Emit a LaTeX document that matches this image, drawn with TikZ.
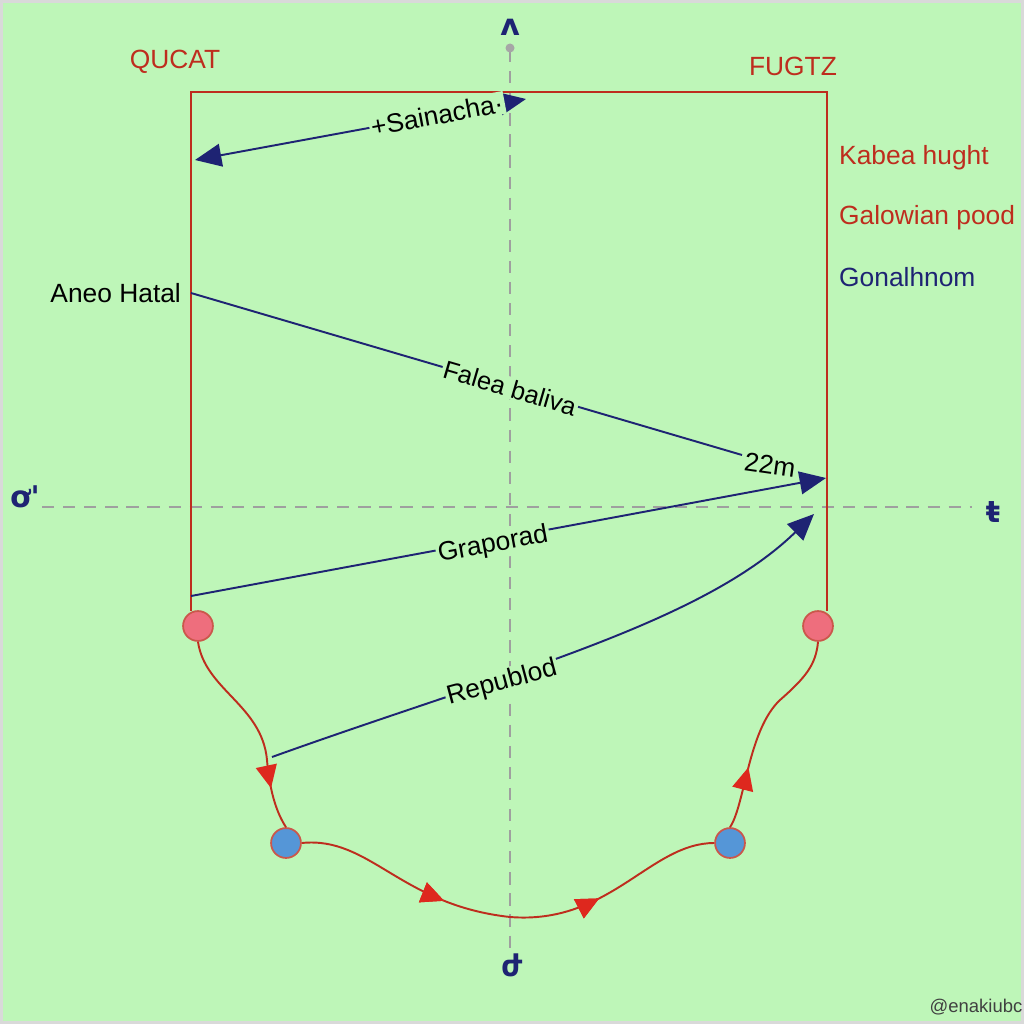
\documentclass[tikz,border=0pt]{standalone}
\usepackage{fontspec}
\setmainfont{Liberation Sans}
\newfontfamily\dejavu{DejaVu Sans}
\usetikzlibrary{arrows.meta,decorations.markings}
\definecolor{bg}{RGB}{190,246,184}
\definecolor{rred}{RGB}{190,45,30}
\definecolor{tipred}{RGB}{222,40,30}
\definecolor{navy}{RGB}{30,35,115}
\definecolor{pinkc}{RGB}{238,110,125}
\definecolor{bluec}{RGB}{85,150,215}
\tikzset{
  redframe/.style={draw=rred,line width=1.4pt},
  navyline/.style={draw=navy,line width=1.1pt},
  navytip/.style={-{Triangle[length=15pt,width=13pt]},navy},
  axis/.style={draw=gray!75,dashed,line width=0.9pt,dash pattern=on 7pt off 5pt},
  pinkdot/.style={circle,draw=rred!80,line width=1pt,fill=pinkc,minimum size=17pt,inner sep=0pt},
  bluedot/.style={circle,draw=rred!80,line width=1pt,fill=bluec,minimum size=17pt,inner sep=0pt},
  redcurve/.style={draw=rred,line width=1.1pt},
  midtip/.style={postaction={decorate},decoration={markings,mark=at position #1 with {\arrow[tipred]{Triangle[length=13pt,width=12pt]}}}},
  lbl/.style={font=\fontsize{15}{18}\selectfont,text=black,inner sep=1pt},
  onln/.style={lbl,fill=bg},
  redtxt/.style={font=\fontsize{15}{18}\selectfont,text=rred},
  glyph/.style={font=\dejavu\bfseries\fontsize{17}{20}\selectfont,text=navy}
}
\begin{document}
\begin{tikzpicture}[x=0.02cm,y=-0.02cm]
\fill[bg] (0,0) rectangle (1024,1024);
\useasboundingbox (0,0) rectangle (1024,1024);
\draw[gray!30,line width=2pt] (1,1) rectangle (1023,1023);

% axes
\draw[axis] (510,50) -- (510,950);
\draw[axis] (42,507) -- (972,507);
\fill[gray!70] (510,48) circle (4.5);
\node[glyph] (gtop) at (510,27) {ʌ};
\node[glyph] (gleft) at (25,497) {ơ'};
\node[glyph] (gright) at (993,512) {ŧ};
\node[glyph] (gbot) at (512,965) {ժ};

% circles
\node[pinkdot] (lp) at (198,626) {};
\node[pinkdot] (rp) at (818,626) {};
\node[bluedot] (lb) at (286,843) {};
\node[bluedot] (rb) at (730,843) {};

% red frame
\coordinate (tl) at (191,92);
\coordinate (tr) at (827,92);
\coordinate (bl) at (191,611);
\coordinate (br) at (827,611);
\draw[redframe] (bl) -- (tl) -- (tr) -- (br);

% top labels
\node[redtxt] (qucat) at (175,62) {QUCAT};
\node[redtxt] (fugtz) at (793,66) {FUGTZ};
\node[redtxt,anchor=west] (kab) at (833,158) {Kabea hught};
\node[redtxt,anchor=west] (gal) at (833,218) {Galowian pood};
\node[redtxt,anchor=west,text=navy] (gon) at (833,277) {Gonalhnom};
\node[lbl,anchor=east] (aneo) at (183,293) {Aneo Hatal};

% Sainacha arrow
\coordinate (sa) at (526,99);
\coordinate (sb) at (195,160);
\draw[navyline,{Triangle[length=15pt,width=13pt]}-{Triangle[length=15pt,width=13pt]},navy] (sb) -- (sa);
\node[onln,rotate=10.7] (sain) at (437,115) {+Sainacha·};

% Falea baliva line
\coordinate (fa) at (191,293);
\coordinate (fb) at (742,455);
\draw[navyline] (fa) -- (fb);
\node[onln,rotate=-16.3,font=\fontsize{14.5}{17}\selectfont] (falea) at (510,388) {Falea baliva};
\node[lbl,rotate=-8] (m22) at (770,465) {22m};

% Graporad line
\coordinate (ga) at (191,596);
\coordinate (gb) at (826,478);
\draw[navyline,navytip] (ga) -- (gb);
\node[onln,rotate=10.5] (grap) at (493,545) {Graporad};

% Republod curve
\coordinate (ra) at (272,757);
\coordinate (rb2) at (814,514);
\draw[navyline,navytip] (ra) .. controls (500,675) and (700,625) .. (rb2);
\node[onln,rotate=15] (rep) at (502,683) {Republod};

% red curves
\draw[redcurve,midtip=0.8] (lp.south) .. controls (205,690) and (262,705) .. (267,760) .. controls (270,795) and (278,815) .. (lb.north);
\draw[redcurve,midtip=0.35,midtip=0.71] (lb.east) .. controls (370,836) and (400,905) .. (510,917) .. controls (610,925) and (650,843) .. (rb.west);
\draw[redcurve,midtip=0.3] (rb.north) .. controls (745,805) and (748,730) .. (780,700) .. controls (805,678) and (816,665) .. (rp.south);

\node[font=\fontsize{10.5}{12}\selectfont,text=black!75] (wm) at (976,1007) {@enakiubc};
\end{tikzpicture}
\end{document}
